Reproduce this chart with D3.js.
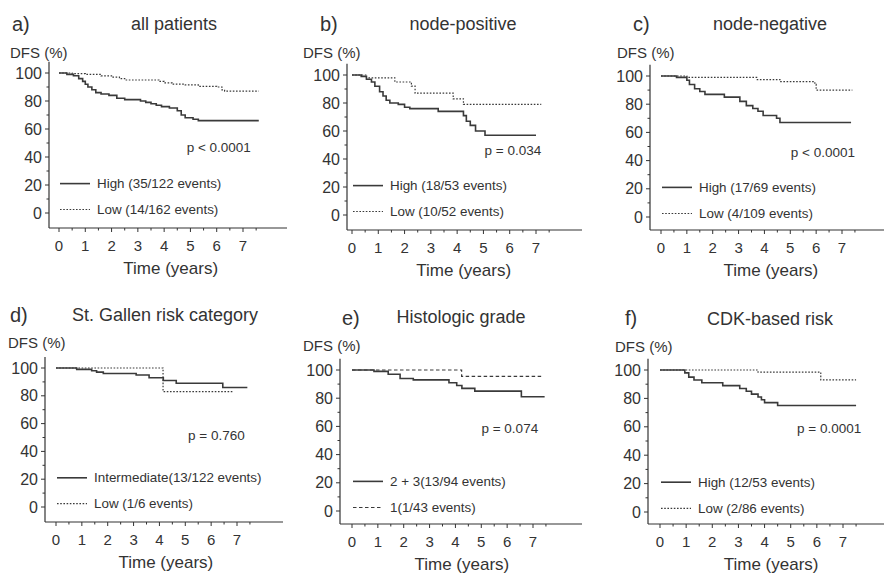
<!DOCTYPE html>
<html>
<head>
<meta charset="utf-8">
<script src="https://cdn.jsdelivr.net/npm/d3@7"></script>
<style>
  body { margin: 0; background: #fff; }
  text { font-family: "Liberation Sans", Arial, sans-serif; fill: #333; }
</style>
</head>
<body>
<svg id="chart" width="884" height="575"></svg>
<script>
// tick values shared by all six panels
const yTicks = [0, 20, 40, 60, 80, 100];
const yMinor = [10, 30, 50, 70, 90];
const xTicks = [0, 1, 2, 3, 4, 5, 6, 7];
const xMinor = [0.5, 1.5, 2.5, 3.5, 4.5, 5.5, 6.5, 7.5];

// Kaplan-Meier steps: [time (years), DFS (%)], last pair = end of follow-up
const aHigh = [[0,100],[0.3,99],[0.55,98],[0.75,96],[0.9,94],[1.0,92],[1.1,90],[1.25,88],[1.4,86],[1.6,85],[1.9,84],[2.2,82],[2.5,81],[3.1,80],[3.3,79],[3.5,78],[3.7,77],[3.9,76],[4.2,75],[4.5,73],[4.65,70],[4.8,68],[5.1,67],[5.3,66],[7.6,66]];
const aLow  = [[0,100],[0.5,99.5],[1.0,99],[1.6,98],[2.0,97],[2.3,96],[2.5,95],[3.8,94],[4.0,93],[4.3,92],[4.8,91.5],[5.3,90.5],[6.0,90],[6.2,88],[6.3,87],[7.6,87]];

const bHigh = [[0,100],[0.35,99],[0.55,97],[0.74,95],[0.87,92],[1.05,88],[1.18,85],[1.3,82],[1.44,80],[1.76,79],[2.0,77],[2.2,76],[3.28,74],[4.24,71],[4.35,67],[4.5,64],[4.7,60],[5.06,57],[7.0,57]];
const bLow  = [[0,100],[0.55,98],[1.63,95],[2.26,92],[2.4,87],[3.85,83],[4.24,79],[7.2,79]];

const cHigh = [[0,100],[0.6,99],[1.0,97],[1.1,94],[1.3,91],[1.5,89],[1.7,87],[2.45,85],[3.05,82],[3.3,79],[3.55,77],[3.75,75],[3.95,72],[4.47,70],[4.6,67],[7.35,67]];
const cLow  = [[0,100],[1.0,99],[3.7,97.5],[4.6,96],[5.95,94],[6.0,90],[7.4,90]];

const dInter = [[0,100],[0.8,99],[1.38,98],[1.57,97],[1.83,96],[3.1,95],[3.6,93],[4.15,91],[4.65,89],[6.45,86],[7.4,86]];
const dLow   = [[0,100],[4.14,83],[6.85,83]];

const eHigh = [[0,100],[0.85,99],[1.4,97],[1.86,94],[2.37,93],[3.75,91],[4.05,89],[4.25,87],[4.75,85],[6.55,81],[7.45,81]];
const eLow  = [[0,100],[4.24,95.5],[7.4,95.5]];

const fHigh = [[0,100],[0.95,98],[1.1,95],[1.3,93],[1.6,91],[2.4,89],[3.05,87],[3.3,85],[3.5,83],[3.75,81],[3.88,79],[4.0,77],[4.5,75],[7.5,75]];
const fLow  = [[0,100],[3.75,98.5],[6.15,93],[7.5,93]];

const panels = [
  { letter: "a)", title: "all patients", p: "p < 0.0001",
    series: [{ label: "High (35/122 events)", data: aHigh, style: "solid" },
             { label: "Low (14/162 events)", data: aLow, style: "dot" }] },
  { letter: "b)", title: "node-positive", p: "p = 0.034",
    series: [{ label: "High (18/53 events)", data: bHigh, style: "solid" },
             { label: "Low (10/52 events)", data: bLow, style: "dot" }] },
  { letter: "c)", title: "node-negative", p: "p < 0.0001",
    series: [{ label: "High (17/69 events)", data: cHigh, style: "solid" },
             { label: "Low (4/109 events)", data: cLow, style: "dot" }] },
  { letter: "d)", title: "St. Gallen risk category", p: "p = 0.760",
    series: [{ label: "Intermediate(13/122 events)", data: dInter, style: "solid" },
             { label: "Low (1/6 events)", data: dLow, style: "dot" }] },
  { letter: "e)", title: "Histologic grade", p: "p = 0.074",
    series: [{ label: "2 + 3(13/94 events)", data: eHigh, style: "solid" },
             { label: "1(1/43 events)", data: eLow, style: "dash" }] },
  { letter: "f)", title: "CDK-based risk", p: "p = 0.0001",
    series: [{ label: "High (12/53 events)", data: fHigh, style: "solid" },
             { label: "Low (2/86 events)", data: fLow, style: "dot" }] }
];

// where each panel sits on the page (pixels)
const layout = [
  { ax: 49,  x0: 59,  x7: 243, y100: 73,  y0: 213, xa: 228, right: 287, lx: 12,  ly: 31,  tx: 174, ty: 30,  dx: 10,  dy: 58,  pT: 7.3, py: 152 },
  { ax: 347, x0: 352, x7: 536, y100: 75,  y0: 215, xa: 230, right: 582, lx: 320, ly: 31,  tx: 463, ty: 30,  dx: 303, dy: 58,  pT: 7.2, py: 155 },
  { ax: 650, x0: 661, x7: 842, y100: 76,  y0: 217, xa: 230, right: 884, lx: 633, ly: 31,  tx: 770, ty: 30,  dx: 617, dy: 58,  pT: 7.5, py: 157 },
  { ax: 45,  x0: 56,  x7: 237, y100: 368, y0: 507, xa: 522, right: 283, lx: 10,  ly: 322, tx: 165, ty: 321, dx: 8,   dy: 348, pT: 7.3, py: 440 },
  { ax: 340, x0: 352, x7: 533, y100: 370, y0: 511, xa: 524, right: 582, lx: 342, ly: 325, tx: 461, ty: 323, dx: 303, dy: 351, pT: 7.2, py: 433 },
  { ax: 648, x0: 660, x7: 843, y100: 370, y0: 512, xa: 524, right: 884, lx: 625, ly: 325, tx: 770, ty: 325, dx: 615, dy: 352, pT: 7.7, py: 433 }
];

const ink = "#333";
const dashes = { solid: null, dot: "1.6,1.6", dash: "3.5,2.5" };

const svg = d3.select("#chart");

panels.forEach((panel, i) => {
  const L = layout[i];
  const x = d3.scaleLinear().domain([0, 7]).range([L.x0, L.x7]);
  const y = d3.scaleLinear().domain([0, 100]).range([L.y0, L.y100]);
  const g = svg.append("g");

  // y axis: line from just above 100 down to the x axis
  g.append("line")
    .attr("x1", L.ax).attr("x2", L.ax)
    .attr("y1", y(108)).attr("y2", L.xa)
    .attr("stroke", ink).attr("stroke-width", 1.2);
  g.selectAll(".yt").data(yTicks).join("line")
    .attr("x1", L.ax - 4).attr("x2", L.ax)
    .attr("y1", d => y(d)).attr("y2", d => y(d))
    .attr("stroke", ink);
  g.selectAll(".ym").data(yMinor).join("line")
    .attr("x1", L.ax - 2.5).attr("x2", L.ax)
    .attr("y1", d => y(d)).attr("y2", d => y(d))
    .attr("stroke", ink);
  g.selectAll(".yl").data(yTicks).join("text")
    .attr("x", L.ax - 7).attr("y", d => y(d) + 5.5)
    .attr("text-anchor", "end").attr("font-size", 16)
    .text(d => d);

  // x axis
  g.append("line")
    .attr("x1", L.ax).attr("x2", L.right)
    .attr("y1", L.xa).attr("y2", L.xa)
    .attr("stroke", ink).attr("stroke-width", 1.2);
  g.selectAll(".xt").data(xTicks).join("line")
    .attr("x1", d => x(d)).attr("x2", d => x(d))
    .attr("y1", L.xa).attr("y2", L.xa + 4)
    .attr("stroke", ink);
  g.selectAll(".xm").data(xMinor).join("line")
    .attr("x1", d => x(d)).attr("x2", d => x(d))
    .attr("y1", L.xa).attr("y2", L.xa + 2.5)
    .attr("stroke", ink);
  g.selectAll(".xl").data(xTicks).join("text")
    .attr("x", d => x(d)).attr("y", L.xa + 23)
    .attr("text-anchor", "middle").attr("font-size", 15)
    .text(d => d);

  // labels
  g.append("text").attr("x", L.lx).attr("y", L.ly).attr("font-size", 20).text(panel.letter);
  g.append("text").attr("x", L.tx).attr("y", L.ty).attr("text-anchor", "middle")
    .attr("font-size", 18).text(panel.title);
  g.append("text").attr("x", L.dx).attr("y", L.dy).attr("font-size", 15).text("DFS (%)");
  g.append("text").attr("x", x(4.25)).attr("y", L.xa + 46).attr("text-anchor", "middle")
    .attr("font-size", 17).text("Time (years)");
  g.append("text").attr("x", x(L.pT)).attr("y", L.py).attr("text-anchor", "end")
    .attr("font-size", 13.5).text(panel.p);

  // survival curves
  const line = d3.line()
    .x(d => x(d[0]))
    .y(d => y(d[1]))
    .curve(d3.curveStepAfter);

  g.selectAll(".km").data(panel.series).join("path")
    .attr("fill", "none")
    .attr("stroke", "#3a3a3a")
    .attr("stroke-width", s => s.style === "solid" ? 1.6 : 1.2)
    .attr("stroke-dasharray", s => dashes[s.style])
    .attr("d", s => line(s.data));

  // legend
  const legY = [y(21), y(2.5)];
  g.selectAll(".lg").data(panel.series).join("line")
    .attr("x1", L.x0 + 1).attr("x2", L.x0 + 31)
    .attr("y1", (s, j) => legY[j]).attr("y2", (s, j) => legY[j])
    .attr("stroke", "#3a3a3a")
    .attr("stroke-width", s => s.style === "solid" ? 1.6 : 1.2)
    .attr("stroke-dasharray", s => dashes[s.style]);
  g.selectAll(".lt").data(panel.series).join("text")
    .attr("x", L.x0 + 38).attr("y", (s, j) => legY[j] + 4.5)
    .attr("font-size", 13.4)
    .text(s => s.label);
});
</script>
</body>
</html>
